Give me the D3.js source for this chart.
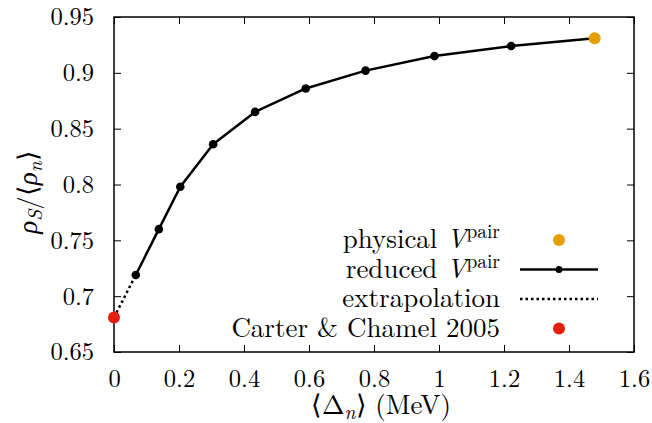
<!DOCTYPE html>
<html><head><meta charset="utf-8">
<script src="https://cdn.jsdelivr.net/npm/d3@7"></script>
<style>
body{margin:0;background:#fff;}
</style></head>
<body><svg id="c" width="652" height="423"></svg>
<script>
// Data
const reducedX = [0.067, 0.138, 0.204, 0.305, 0.434, 0.590, 0.774, 0.986, 1.222, 1.479];
const reducedY = [0.719, 0.760, 0.798, 0.836, 0.865, 0.886, 0.902, 0.915, 0.924, 0.931];
const physicalX = [1.479];
const physicalY = [0.931];
const carterX = [0];
const carterY = [0.681];
const extrapX = [0, 0.067];
const extrapY = [0.681, 0.719];
const xTicks = [0, 0.2, 0.4, 0.6, 0.8, 1, 1.2, 1.4, 1.6];
const yTicks = [0.65, 0.7, 0.75, 0.8, 0.85, 0.9, 0.95];

const FONT = "'Latin Modern Roman','CMU Serif','Liberation Serif',serif";
const svg = d3.select("#c");
const L = 114, R = 634, T = 17, B = 352;
const x = d3.scaleLinear().domain([0, 1.6]).range([L, R]);
const y = d3.scaleLinear().domain([0.65, 0.95]).range([B, T]);
const fsT = 24.5, fsL = 27;

function styleAxis(g) {
  g.select(".domain").remove();
  g.selectAll("line").attr("stroke", "#000").attr("stroke-width", 1);
  g.selectAll("text").style("font-family", FONT).style("font-size", fsT + "px").attr("fill", "#000");
}
const tickLen = 7;
svg.append("g").attr("transform", `translate(0,${B})`)
  .call(d3.axisBottom(x).tickValues(xTicks).tickSize(-tickLen).tickPadding(18).tickFormat(d => String(+d.toFixed(1))))
  .call(styleAxis);
svg.append("g").attr("transform", `translate(0,${T})`)
  .call(d3.axisTop(x).tickValues(xTicks).tickSize(-tickLen).tickFormat(""))
  .call(styleAxis);
svg.append("g").attr("transform", `translate(${L},0)`)
  .call(d3.axisLeft(y).tickValues(yTicks).tickSize(-tickLen).tickPadding(20).tickFormat(d => String(+d.toFixed(2))))
  .call(styleAxis);
svg.append("g").attr("transform", `translate(${R},0)`)
  .call(d3.axisRight(y).tickValues(yTicks).tickSize(-tickLen).tickFormat(""))
  .call(styleAxis);

// frame
svg.append("rect").attr("x", L).attr("y", T).attr("width", R - L).attr("height", B - T)
  .attr("fill", "none").attr("stroke", "#000").attr("stroke-width", 1.5);

// extrapolation
const line = d3.line().x(d => x(d[0])).y(d => y(d[1]));
svg.append("path").datum(extrapX.map((v, i) => [v, extrapY[i]]))
  .attr("d", line).attr("fill", "none").attr("stroke", "#000").attr("stroke-width", 2.5)
  .attr("stroke-dasharray", "2.5,3");

// reduced
const red = reducedX.map((v, i) => [v, reducedY[i]]);
svg.append("path").datum(red).attr("d", line).attr("fill", "none")
  .attr("stroke", "#000").attr("stroke-width", 2.5).attr("stroke-linejoin", "round");
svg.selectAll("circle.r").data(red).enter().append("circle")
  .attr("cx", d => x(d[0])).attr("cy", d => y(d[1])).attr("r", 4.3).attr("fill", "#000");

// physical
svg.selectAll("circle.p").data(physicalX.map((v, i) => [v, physicalY[i]])).enter().append("circle")
  .attr("cx", d => x(d[0])).attr("cy", d => y(d[1])).attr("r", 6).attr("fill", "#e69f00");
// carter
svg.selectAll("circle.c").data(carterX.map((v, i) => [v, carterY[i]])).enter().append("circle")
  .attr("cx", d => x(d[0])).attr("cy", d => y(d[1])).attr("r", 6).attr("fill", "#e51e10");

function txt(xp, yp, anchor, fs) {
  return svg.append("text").attr("x", xp).attr("y", yp).attr("text-anchor", anchor)
    .style("font-family", FONT).style("font-size", fs + "px").attr("fill", "#000");
}
// legend
const lx = 500, sx1 = 520, sx2 = 598, sc = 559;
const rows = [240, 269.5, 299, 328.5];
function vpair(t, label) {
  t.append("tspan").text(label + " ");
  t.append("tspan").style("font-style", "italic").text("V");
  t.append("tspan").style("font-size", (fsL * 0.72) + "px").attr("dy", -10).text("pair");
}
vpair(txt(lx, rows[0] + 8, "end", fsL), "physical");
vpair(txt(lx, rows[1] + 8, "end", fsL), "reduced");
txt(lx, rows[2] + 8, "end", fsL).text("extrapolation");
txt(lx, rows[3] + 8, "end", fsL).text("Carter & Chamel 2005");
svg.append("circle").attr("cx", sc).attr("cy", rows[0]).attr("r", 6).attr("fill", "#e69f00");
svg.append("line").attr("x1", sx1).attr("x2", sx2).attr("y1", rows[1]).attr("y2", rows[1]).attr("stroke", "#000").attr("stroke-width", 2.5);
svg.append("circle").attr("cx", sc).attr("cy", rows[1]).attr("r", 3.5).attr("fill", "#000");
svg.append("line").attr("x1", sx1).attr("x2", sx2).attr("y1", rows[2]).attr("y2", rows[2]).attr("stroke", "#000").attr("stroke-width", 2.5).attr("stroke-dasharray", "2.5,3");
svg.append("circle").attr("cx", sc).attr("cy", rows[3]).attr("r", 6).attr("fill", "#e51e10");

// x label
const xl = txt(381, 414, "middle", fsL);
xl.append("tspan").text("⟨Δ");
xl.append("tspan").style("font-style", "italic").style("font-size", (fsL * 0.72) + "px").attr("dy", 5).text("n");
xl.append("tspan").attr("dy", -5).attr("dx", 1).text("⟩");
xl.append("tspan").attr("dx", 8).text("(MeV)");

// y label
const yl = svg.append("text").attr("transform", `translate(37,192) rotate(-90)`)
  .attr("text-anchor", "middle").style("font-family", FONT).style("font-size", fsL + "px").attr("fill", "#000");
yl.append("tspan").style("font-style", "italic").text("ρ");
yl.append("tspan").style("font-style", "italic").style("font-size", (fsL * 0.72) + "px").attr("dy", 5).text("S");
yl.append("tspan").attr("dy", -5).text("/⟨");
yl.append("tspan").style("font-style", "italic").text("ρ");
yl.append("tspan").style("font-style", "italic").style("font-size", (fsL * 0.72) + "px").attr("dy", 5).text("n");
yl.append("tspan").attr("dy", -5).text("⟩");
</script></body></html>
